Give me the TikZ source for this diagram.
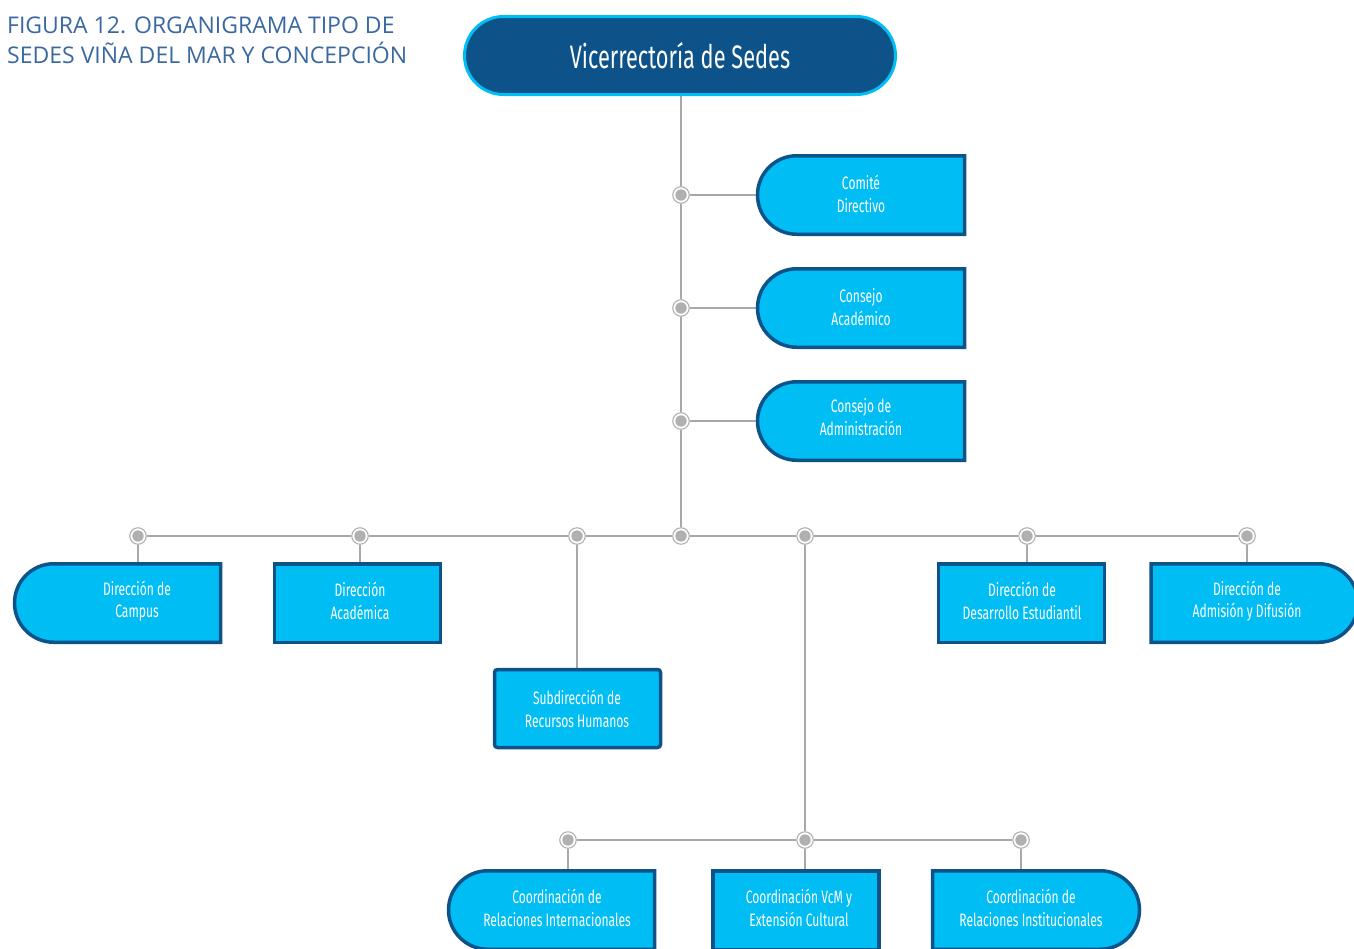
\documentclass[tikz,border=0pt]{standalone}
\usepackage{fontspec}
\setmainfont{Open Sans}
\newfontfamily\cond[FakeStretch=0.67]{Fira Sans}
\usetikzlibrary{shapes.misc}
\definecolor{cyanfill}{HTML}{00BEF4}
\definecolor{darkb}{HTML}{0D5289}
\definecolor{linegray}{HTML}{A8A8A8}
\definecolor{dotgray}{HTML}{B0B0B0}
\definecolor{titleblue}{HTML}{3A68A0}
\pgfdeclarelayer{bg}
\pgfsetlayers{bg,main}
\tikzset{
  conn/.style={draw=linegray, line width=1.3pt},
  jdot/.style={circle, minimum size=16.5pt, inner sep=0pt, draw=dotgray, line width=1.1pt, fill=white,
    path picture={\fill[dotgray] (path picture bounding box.center) circle (5.7pt);}},
  boxbase/.style={draw=darkb, fill=cyanfill, line width=3.5pt, minimum height=78.5pt, inner sep=0pt},
  lbox/.style={boxbase, rounded rectangle, rounded rectangle right arc=none},
  rbox/.style={boxbase, rounded rectangle, rounded rectangle left arc=none},
  sbox/.style={boxbase, rectangle},
  txt/.style={text=white, font=\cond\fontsize{18}{22.5}\selectfont, align=center, inner sep=0pt}
}
\begin{document}
\begin{tikzpicture}[x=1pt,y=-1pt]
\useasboundingbox (0,0) rectangle (1354,948);
% title
\node[anchor=north west, align=left, text=titleblue, font=\fontsize{23}{29.5}\selectfont, inner sep=0pt] (title) at (7,17)
  {FIGURA 12. ORGANIGRAMA TIPO DE\\SEDES VIÑA DEL MAR Y CONCEPCIÓN};
% top
\node[rounded rectangle, draw=cyanfill, fill=darkb, line width=3pt, minimum width=431pt, minimum height=78pt, inner sep=0pt,
  text=white, font=\cond\fontsize{32.5}{40}\selectfont] (top) at (680,55.5) {Vicerrectoría de Sedes};
% junction dots
\node[jdot] (d1) at (681,195) {};
\node[jdot] (d2) at (681,308) {};
\node[jdot] (d3) at (681,421) {};
\node[jdot] (dD) at (681,536) {};
\node[jdot] (dA) at (138,536) {};
\node[jdot] (dB) at (360,536) {};
\node[jdot] (dC) at (577,536) {};
\node[jdot] (dE) at (805,536) {};
\node[jdot] (dF) at (1027,536) {};
\node[jdot] (dG) at (1247,536) {};
\node[jdot] (e1) at (568,840) {};
\node[jdot] (e2) at (805,840) {};
\node[jdot] (e3) at (1021,840) {};
% committees
\node[lbox, minimum width=207pt] (comite) at (861,195) {};
\node[txt] at (861,194) {Comité\\Directivo};
\node[lbox, minimum width=207pt] (consejo) at (861,308) {};
\node[txt] at (861,307) {Consejo\\Académico};
\node[lbox, minimum width=207pt] (admin) at (861,421) {};
\node[txt] at (861,417) {Consejo de\\Administración};
% row 2
\node[lbox, minimum width=206pt] (campus) at (117.5,603) {};
\node[txt] at (137,601) {Dirección de\\Campus};
\node[sbox, minimum width=166pt] (acad) at (357.5,603) {};
\node[txt] at (360,601) {Dirección\\Académica};
\node[sbox, minimum width=166pt] (desa) at (1021.5,603) {};
\node[txt] at (1022,601) {Dirección de\\Desarrollo Estudiantil};
\node[rbox, minimum width=207pt] (admis) at (1254.5,603) {};
\node[txt] at (1247,601) {Dirección de\\Admisión y Difusión};
\node[sbox, minimum width=166pt, minimum height=78pt, rounded corners=3pt] (rrhh) at (577.5,708.5) {};
\node[txt] at (577,709) {Subdirección de\\Recursos Humanos};
% row 3
\node[lbox, minimum width=206pt] (cri) at (551.5,910) {};
\node[txt] at (557,908) {Coordinación de\\Relaciones Internacionales};
\node[sbox, minimum width=166pt] (vcm) at (796,910) {};
\node[txt] at (799,908) {Coordinación VcM y\\Extensión Cultural};
\node[rbox, minimum width=207pt] (crin) at (1036,910) {};
\node[txt] at (1031,908) {Coordinación de\\Relaciones Institucionales};
% connectors
\begin{pgfonlayer}{bg}
\draw[conn] (top.south -| d1) -- (d1) -- (d2) -- (d3) -- (dD);
\draw[conn] (d1) -- (comite.west);
\draw[conn] (d2) -- (consejo.west);
\draw[conn] (d3) -- (admin.west);
\draw[conn] (dA) -- (dB) -- (dC) -- (dD) -- (dE) -- (dF) -- (dG);
\draw[conn] (dA) -- (campus.north -| dA);
\draw[conn] (dB) -- (acad.north -| dB);
\draw[conn] (dC) -- (rrhh.north -| dC);
\draw[conn] (dF) -- (desa.north -| dF);
\draw[conn] (dG) -- (admis.north -| dG);
\draw[conn] (dE) -- (e2);
\draw[conn] (e1) -- (e2) -- (e3);
\draw[conn] (e1) -- (cri.north -| e1);
\draw[conn] (e2) -- (vcm.north -| e2);
\draw[conn] (e3) -- (crin.north -| e3);
\end{pgfonlayer}
\end{tikzpicture}
\end{document}
